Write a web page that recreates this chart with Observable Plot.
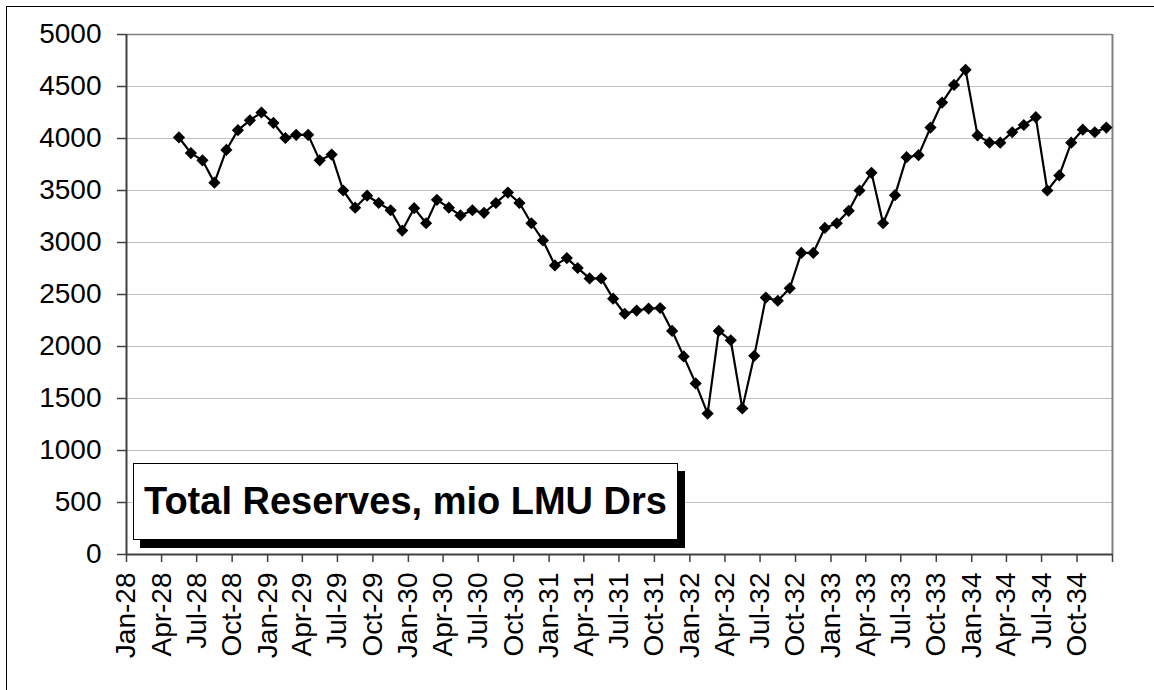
<!DOCTYPE html>
<html>
<head>
<meta charset="utf-8">
<script src="https://cdn.jsdelivr.net/npm/d3@7"></script>
<script src="https://cdn.jsdelivr.net/npm/@observablehq/plot@0.6"></script>
<style>
  html, body { margin: 0; padding: 0; background: #fff; overflow: hidden; }
  #wrap { position: relative; width: 1154px; height: 690px; overflow: hidden; }
  #frame { position: absolute; left: 6px; top: 6px; width: 1200px; height: 800px; border: 1px solid #000; box-sizing: border-box; pointer-events: none; }
  #chart { position: absolute; left: 0; top: 0; }
  #legend {
    position: absolute; left: 133px; top: 463px; width: 545px; height: 77px;
    box-sizing: border-box; border: 1px solid #000; background: #fff;
    box-shadow: 7px 8px 0 #000;
    font-family: "Liberation Sans", Arial, sans-serif; font-weight: bold; font-size: 38px;
    line-height: 75px; text-align: center; color: #000; white-space: nowrap;
  }
</style>
</head>
<body>
<div id="wrap">
  <div id="frame"></div>
  <div id="chart"></div>
  <div id="legend">Total Reserves, mio LMU Drs</div>
</div>
<script>
// Months of observations (year-month)
const months = [
  "1928-05","1928-06","1928-07","1928-08","1928-09","1928-10","1928-11","1928-12",
  "1929-01","1929-02","1929-03","1929-04","1929-05","1929-06","1929-07","1929-08","1929-09","1929-10","1929-11","1929-12",
  "1930-01","1930-02","1930-03","1930-04","1930-05","1930-06","1930-07","1930-08","1930-09","1930-10","1930-11","1930-12",
  "1931-01","1931-02","1931-03","1931-04","1931-05","1931-06","1931-07","1931-08","1931-09","1931-10","1931-11","1931-12",
  "1932-01","1932-02","1932-03","1932-04","1932-05","1932-06","1932-07","1932-08","1932-09","1932-10","1932-11","1932-12",
  "1933-01","1933-02","1933-03","1933-04","1933-05","1933-06","1933-07","1933-08","1933-09","1933-10","1933-11","1933-12",
  "1934-01","1934-02","1934-03","1934-04","1934-05","1934-06","1934-07","1934-08","1934-09","1934-10","1934-11","1934-12"
];
// Total reserves, mio LMU Drs
const reserves = [
  4010, 3860, 3790, 3575, 3890, 4080, 4175, 4250,
  4150, 4005, 4035, 4035, 3790, 3845, 3500, 3335, 3450, 3380, 3310, 3115,
  3330, 3185, 3410, 3335, 3260, 3310, 3285, 3380, 3480, 3380, 3185, 3020,
  2780, 2850, 2755, 2655, 2655, 2460, 2315, 2345, 2365, 2370, 2150, 1905,
  1645, 1355, 2150, 2060, 1405, 1910, 2470, 2440, 2560, 2900, 2900, 3140,
  3185, 3305, 3500, 3670, 3185, 3455, 3820, 3840, 4105, 4345, 4515, 4660,
  4030, 3960, 3960, 4060, 4130, 4205, 3500, 3645, 3960, 4085, 4060, 4105
];
// X tick months and labels
const tickMonths = [
  "1928-01","1928-04","1928-07","1928-10","1929-01","1929-04","1929-07","1929-10",
  "1930-01","1930-04","1930-07","1930-10","1931-01","1931-04","1931-07","1931-10",
  "1932-01","1932-04","1932-07","1932-10","1933-01","1933-04","1933-07","1933-10",
  "1934-01","1934-04","1934-07","1934-10","1935-01"
];
const tickLabels = [
  "Jan-28","Apr-28","Jul-28","Oct-28","Jan-29","Apr-29","Jul-29","Oct-29",
  "Jan-30","Apr-30","Jul-30","Oct-30","Jan-31","Apr-31","Jul-31","Oct-31",
  "Jan-32","Apr-32","Jul-32","Oct-32","Jan-33","Apr-33","Jul-33","Oct-33",
  "Jan-34","Apr-34","Jul-34","Oct-34",""
];
const yTicks = [0, 500, 1000, 1500, 2000, 2500, 3000, 3500, 4000, 4500, 5000];

const ym = s => { const [y, m] = s.split("-").map(Number); return [y, m]; };
const monthStart = s => { const [y, m] = ym(s); return new Date(Date.UTC(y, m - 1, 1)); };
const monthMid = s => { const [y, m] = ym(s); return new Date(Date.UTC(y, m - 1, 16)); };

const data = months.map((m, i) => ({date: monthMid(m), value: reserves[i]}));
const tickDates = tickMonths.map(monthStart);
const labelOf = new Map(tickDates.map((d, i) => [+d, tickLabels[i]]));
const x0 = tickDates[0], x1 = tickDates[tickDates.length - 1];

const chart = Plot.plot({
  width: 1154,
  height: 690,
  marginLeft: 126,
  marginRight: 42,
  marginTop: 34,
  marginBottom: 136,
  style: {fontFamily: "'Liberation Sans', Arial, sans-serif", fontSize: "28px", color: "#000", background: "transparent"},
  x: {type: "utc", domain: [x0, x1]},
  y: {domain: [0, 5000]},
  marks: [
    Plot.gridY(yTicks, {stroke: "#c0c0c0", strokeOpacity: 1, strokeWidth: 1}),
    Plot.ruleY([5000], {stroke: "#808080", strokeWidth: 1.5}),
    Plot.ruleX([x1], {stroke: "#808080", strokeWidth: 2}),
    Plot.line(data, {x: "date", y: "value", stroke: "#000", strokeWidth: 2.2}),
    Plot.dot(data, {x: "date", y: "value", symbol: "diamond2", r: 5.5, fill: "#000", stroke: "none"}),
    Plot.ruleX([x0], {stroke: "#404040", strokeWidth: 2}),
    Plot.ruleY([0], {stroke: "#404040", strokeWidth: 2}),
    Plot.axisY(yTicks, {tickSize: 9, tickPadding: 16, stroke: "#404040", strokeWidth: 1.5, fontSize: 28, label: null, tickFormat: d => String(d)}),
    Plot.axisX(tickDates, {tickSize: 8, tickPadding: 10, tickRotate: -90, stroke: "#404040", strokeWidth: 1.5, fontSize: 28, label: null, tickFormat: d => labelOf.get(+d)})
  ]
});
document.getElementById("chart").appendChild(chart);
</script>
</body>
</html>
